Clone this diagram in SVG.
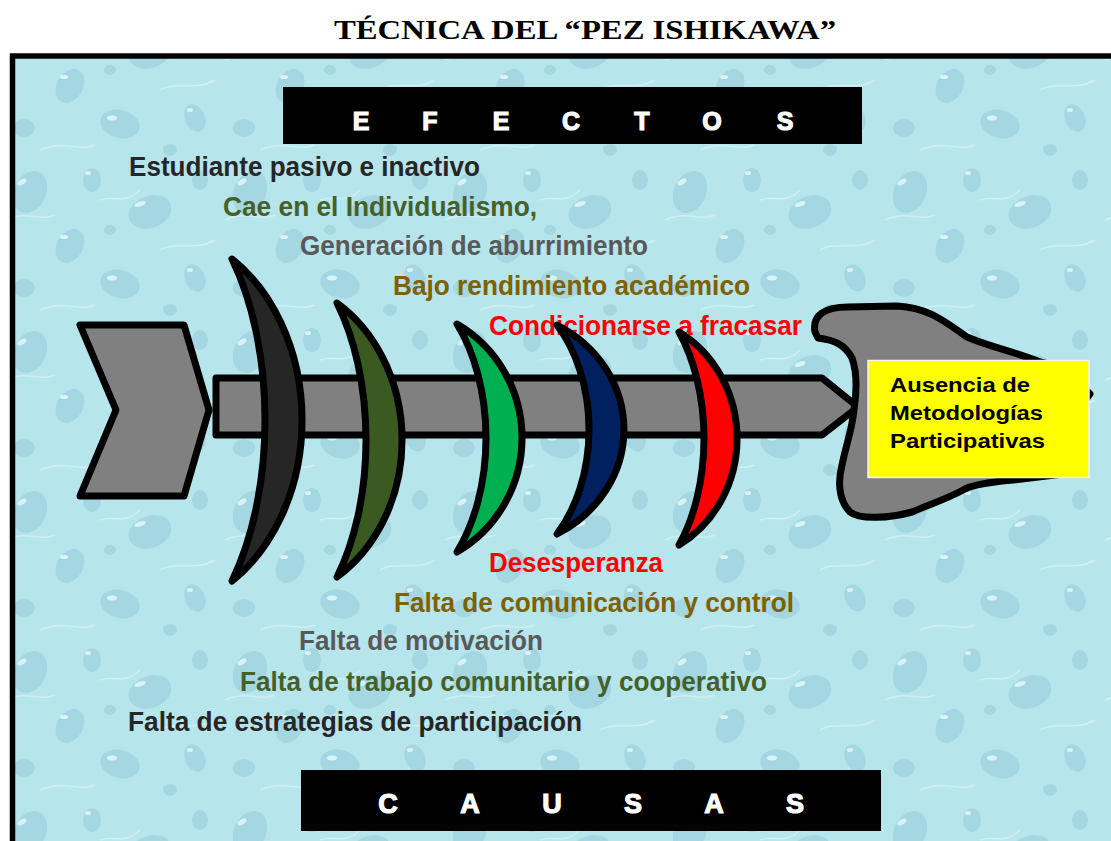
<svg xmlns="http://www.w3.org/2000/svg" width="1111" height="841" viewBox="0 0 1111 841">
<defs>
<pattern id="water" width="220" height="160" patternUnits="userSpaceOnUse">
<rect width="220" height="160" fill="#b6e5ec"/>
<g fill="#9dd3df" opacity="0.75">
<ellipse cx="30" cy="32" rx="16" ry="22" transform="rotate(25 30 32)"/>
<ellipse cx="92" cy="20" rx="9" ry="12"/>
<ellipse cx="150" cy="52" rx="22" ry="16" transform="rotate(-20 150 52)"/>
<ellipse cx="70" cy="86" rx="13" ry="18" transform="rotate(30 70 86)"/>
<ellipse cx="24" cy="128" rx="11" ry="9"/>
<ellipse cx="120" cy="124" rx="20" ry="14" transform="rotate(15 120 124)"/>
<ellipse cx="195" cy="118" rx="10" ry="14" transform="rotate(-25 195 118)"/>
<ellipse cx="200" cy="20" rx="8" ry="10"/>
<ellipse cx="170" cy="150" rx="7" ry="6"/>
<ellipse cx="110" cy="70" rx="6" ry="5"/>
</g>
<g fill="none" stroke="#d2f1f5" stroke-width="1.5" opacity="0.9">
<path d="M5,60 C25,50 40,62 55,55"/>
<path d="M100,40 C115,35 125,45 140,30"/>
<path d="M40,150 C60,140 80,152 95,145"/>
<path d="M160,90 C175,80 195,92 215,80"/>
</g>
<g fill="#e6f8fb" opacity="0.85">
<ellipse cx="22" cy="22" rx="5" ry="2.5" transform="rotate(-30 22 22)"/>
<ellipse cx="88" cy="13" rx="3" ry="2"/>
<ellipse cx="140" cy="44" rx="6" ry="2.5" transform="rotate(-20 140 44)"/>
<ellipse cx="64" cy="77" rx="4" ry="2"/>
<ellipse cx="112" cy="118" rx="5" ry="2.5"/>
<ellipse cx="190" cy="110" rx="3" ry="2"/>
</g>
</pattern>
<style>
.lbl{font-family:"Liberation Sans",Arial,sans-serif;font-weight:bold;font-size:28px}
.dark{fill:#262626}.olive{fill:#45602a}.gray{fill:#595959}.gold{fill:#806000}.red{fill:#ff0000}
.bar{fill:#000}
.bartxt{font-family:"Liberation Sans",Arial,sans-serif;font-weight:bold;fill:#fff;stroke:#fff;stroke-width:1.2;text-anchor:middle}
.shape{stroke:#000;stroke-width:7;stroke-linejoin:round}
.box{font-family:"Liberation Sans",Arial,sans-serif;font-weight:bold;font-size:20px;fill:#000}
</style>
</defs>

<rect width="1111" height="841" fill="#fff"/>
<text x="334" y="39" textLength="502" lengthAdjust="spacingAndGlyphs" style="font-family:'Liberation Serif','Times New Roman',serif;font-weight:bold;font-size:28px" fill="#000">TÉCNICA DEL “PEZ ISHIKAWA”</text>

<rect x="12.5" y="56" width="1110" height="800" fill="url(#water)" stroke="#000" stroke-width="5.5"/>

<g id="efectos">
<rect class="bar" x="283" y="87" width="579" height="57"/>
<g class="bartxt" style="font-size:25px">
<text x="361" y="130">E</text><text x="430" y="130">F</text><text x="501" y="130">E</text><text x="571" y="130">C</text><text x="642" y="130">T</text><text x="712" y="130">O</text><text x="785" y="130">S</text>
</g>
</g>

<g id="causas">
<rect class="bar" x="301" y="770" width="580" height="61"/>
<g class="bartxt" style="font-size:27px">
<text x="388" y="813">C</text><text x="470" y="813">A</text><text x="552" y="813">U</text><text x="633" y="813">S</text><text x="714" y="813">A</text><text x="795" y="813">S</text>
</g>
</g>

<g id="labels">
<text class="lbl dark" x="129" y="176" textLength="351" lengthAdjust="spacingAndGlyphs">Estudiante pasivo e inactivo</text>
<text class="lbl olive" x="223" y="216" textLength="314" lengthAdjust="spacingAndGlyphs">Cae en el Individualismo,</text>
<text class="lbl gray" x="300" y="255" textLength="348" lengthAdjust="spacingAndGlyphs">Generación de aburrimiento</text>
<text class="lbl gold" x="393" y="295" textLength="357" lengthAdjust="spacingAndGlyphs">Bajo rendimiento académico</text>
<text class="lbl red" x="489" y="335" textLength="313" lengthAdjust="spacingAndGlyphs">Condicionarse a fracasar</text>
<text class="lbl red" x="489" y="572" textLength="174" lengthAdjust="spacingAndGlyphs">Desesperanza</text>
<text class="lbl gold" x="394" y="612" textLength="400" lengthAdjust="spacingAndGlyphs">Falta de comunicación y control</text>
<text class="lbl gray" x="299" y="650" textLength="244" lengthAdjust="spacingAndGlyphs">Falta de motivación</text>
<text class="lbl olive" x="240" y="691" textLength="527" lengthAdjust="spacingAndGlyphs">Falta de trabajo comunitario y cooperativo</text>
<text class="lbl dark" x="128" y="731" textLength="454" lengthAdjust="spacingAndGlyphs">Falta de estrategias de participación</text>
</g>

<g id="connectors">
<polygon id="spine" class="shape" fill="#808080" points="216,378 822,378 858,407 822,435 216,435"/>
</g>

<g id="tail">
<polygon class="shape" fill="#808080" points="80,325 184,325 209,410 184,496 80,496 116,410"/>
</g>

<g id="ribs">
<path id="rib1" class="shape" fill="#262626" d="M232,259 A150,190.3 0 0 1 232,581 A120,233.7 0 0 0 232,259 Z"/>
<path id="rib2" class="shape" fill="#3a5a22" d="M337,303 A140,162.2 0 0 1 337,577 A110,202.5 0 0 0 337,303 Z"/>
<path id="rib3" class="shape" fill="#00b050" d="M457,324 A130,131.6 0 0 1 457,552 A100,161.9 0 0 0 457,324 Z"/>
<path id="rib4" class="shape" fill="#002060" d="M557,325 A130,119.5 0 0 1 557,534 A100,142.5 0 0 0 557,325 Z"/>
<path id="rib5" class="shape" fill="#ff0000" d="M679,332 A115,122.6 0 0 1 679,545 A90,154 0 0 0 679,332 Z"/>
</g>

<g id="head">
<path class="shape" fill="#808080" d="M815,332 C812,315 825,307 848,307 L897,306 C930,308 945,322 967,337 C990,347 1010,350 1040,362 L1080,372 L1084,388 L1090,394 L1084,402 L1080,472 L1013,480 C990,482 975,484 965,489 C945,500 925,506 912,512 C890,518 860,520 850,512 C838,500 838,480 842,465 C846,445 852,430 854,410 C857,390 857,372 852,358 C845,345 835,340 818,338 Z"/>
<rect x="868" y="360.5" width="221" height="117" fill="#ffff00" stroke="#f4f4f4" stroke-width="1.5"/>
<text class="box" x="890" y="392" textLength="140" lengthAdjust="spacingAndGlyphs">Ausencia de</text>
<text class="box" x="890" y="420" textLength="153" lengthAdjust="spacingAndGlyphs">Metodologías</text>
<text class="box" x="890" y="448" textLength="155" lengthAdjust="spacingAndGlyphs">Participativas</text>
</g>
</svg>
